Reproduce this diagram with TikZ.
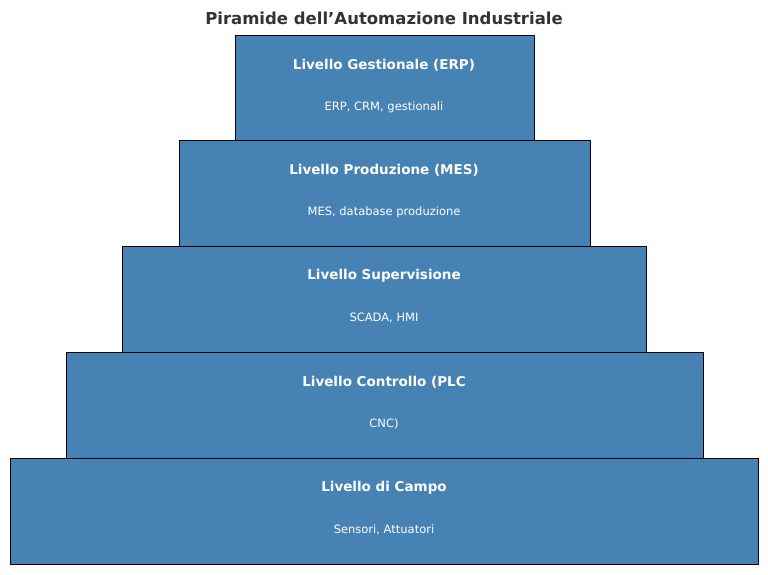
\documentclass[tikz,border=0pt]{standalone}
\usepackage{fontspec}
\setmainfont{DejaVu Sans}
\definecolor{steel}{HTML}{4682B4}
\definecolor{ttl}{HTML}{333333}
\tikzset{lvl/.style={draw=black,line width=0.9pt,fill=steel},
 hd/.style={text=white,font=\bfseries\fontsize{13.5}{15}\selectfont},
 sb/.style={text=white,font=\fontsize{11.5}{13}\selectfont}}
\begin{document}
\begin{tikzpicture}[x=1pt,y=-1pt]
\useasboundingbox (0,0) rectangle (768,574);
\node[text=ttl,font=\bfseries\fontsize{16.5}{19}\selectfont] (t) at (384,18) {Piramide dell'Automazione Industriale};
\foreach \i/\l/\r/\y/\h/\s in {1/235/534/35/Livello Gestionale (ERP)/{ERP, CRM, gestionali},
 2/179/590/140/Livello Produzione (MES)/{MES, database produzione},
 3/122/646/246/Livello Supervisione/{SCADA, HMI},
 4/66/703/352/Livello Controllo (PLC/CNC)/{PLC, CNC, PAC},
 5/10/758/458/Livello di Campo/{Sensori, Attuatori}}{
 \path[lvl] (\l,\y) rectangle (\r,\y+106);
 \node[hd] (h\i) at (384,\y+30) {\h};
 \node[sb] (s\i) at (384,\y+72) {\s};
}
\end{tikzpicture}
\end{document}
